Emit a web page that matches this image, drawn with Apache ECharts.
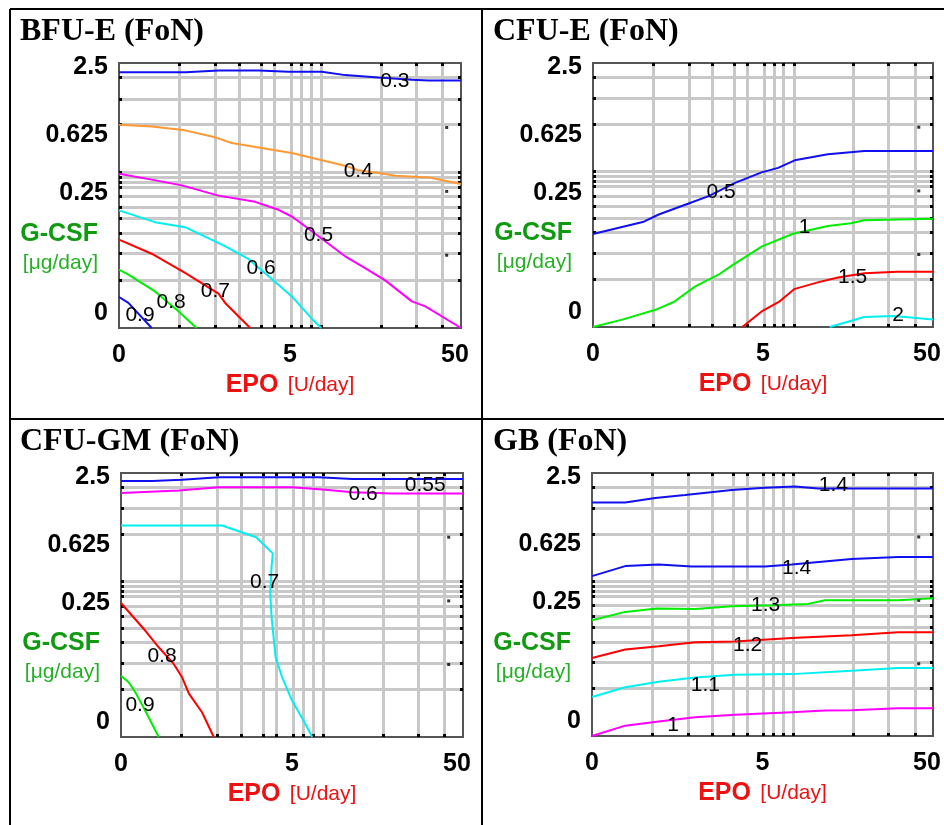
<!DOCTYPE html>
<html>
<head>
<meta charset="utf-8">
<script src="https://cdn.jsdelivr.net/npm/echarts@6/dist/echarts.min.js"></script>
<style>
  html, body { margin: 0; padding: 0; background: #fff; }
  #chart { width: 944px; height: 825px; }
</style>
</head>
<body>
<div id="chart"></div>
<script>
// ---- Axis labels (EPO in U/day, G-CSF in µg/day) ----
const epoTickLabels = [0, 5, 50];
const gcsfTickLabels = [0, 0.25, 0.625, 2.5];

// ---- Dose design sample grid (drawn as grid lines / ticks) ----
const epoGrid = [0.734, 1.54, 2.30, 3.24, 3.98, 5.08, 5.84, 6.73, 7.75, 17.5, 27.9, 39.4];
const gcsfGrid = [0.0277, 0.0576, 0.093, 0.127, 0.162, 0.201, 0.242, 0.267, 0.294, 0.325, 0.802, 1.29, 1.93];
const gridMarks = [[41.5, 0.757], [41.5, 0.222], [41.5, 0.0555]];

const panelTitles = ['BFU-E (FoN)', 'CFU-E (FoN)', 'CFU-GM (FoN)', 'GB (FoN)'];

// ---- BFU-E fold-of-normal contours: [EPO, G-CSF] ----
const bfuLevels = [0.3, 0.4, 0.5, 0.6, 0.7, 0.8, 0.9];
const bfuLines = [
  [[0,2.11],[0.85,2.11],[1.62,2.18],[3.13,2.18],[4.9,2.13],[7.85,2.13],[10.8,2.0],[16.9,1.91],[26.3,1.84],[32.8,1.815],[50,1.815]],
  [[0,0.797],[0.326,0.772],[0.836,0.717],[1.525,0.629],[2.04,0.565],[3.13,0.52],[5.13,0.468],[7.85,0.407],[10.8,0.367],[12.9,0.336],[16.9,0.318],[21.2,0.302],[32.9,0.292],[50,0.257]],
  [[0,0.314],[0.326,0.28],[0.776,0.25],[1.62,0.204],[2.97,0.18],[4.23,0.153],[5.13,0.133],[6.21,0.108],[8.21,0.0773],[10.8,0.054],[13.6,0.0416],[18.5,0.0277],[26.3,0.0125],[31.4,0.0097],[50,0]],
  [[0,0.151],[0.368,0.118],[0.836,0.106],[1.72,0.0715],[1.93,0.066],[2.67,0.0505],[3.83,0.029],[5.13,0.0156],[6.82,0.0037],[7.78,0]],
  [[0,0.0803],[0.326,0.0576],[0.836,0.0346],[1.62,0.0174],[1.82,0.0116],[2.75,0]],
  [[0,0.038],[0.08,0.033],[0.368,0.019],[0.716,0.0071],[1.07,0]],
  [[0,0.0152],[0.08,0.0116],[0.326,0]]
];
const bfuLabelAt = [[21.0,1.78],[12.9,0.327],[7.49,0.089],[3.26,0.0394],[1.53,0.0193],[0.595,0.012],[0.194,0.0053]];

// ---- CFU-E ----
const cfuELevels = [0.5, 1, 1.5, 2];
const cfuELines = [
  [[0,0.0898],[0.58,0.1176],[0.836,0.137],[1.525,0.172],[2.16,0.2],[3.29,0.26],[4.9,0.32],[6.21,0.349],[7.85,0.404],[12.4,0.453],[20.2,0.483],[50,0.483]],
  [[0,0],[0.287,0.0029],[0.776,0.0074],[1.15,0.0116],[1.72,0.0221],[2.6,0.033],[3.13,0.0416],[4.9,0.0672],[7.67,0.0904],[12.4,0.1072],[16.9,0.114],[20.2,0.1216],[50,0.125]],
  [[3.68,0],[4.9,0.0066],[6.36,0.012],[7.78,0.02],[10.8,0.0253],[14.2,0.0295],[20.2,0.0336],[31.4,0.035],[50,0.035]],
  [[12.7,0],[20.2,0.004],[30,0.0045],[50,0.0029]]
];
const cfuELabelAt = [[2.65,0.218],[9.0,0.104],[17.3,0.0298],[31.6,0.0047]];

// ---- CFU-GM ----
const cfuGMLevels = [0.55, 0.6, 0.7, 0.8, 0.9];
const cfuGMLines = [
  [[0,2.158],[0.307,2.158],[0.746,2.21],[1.57,2.307],[7.31,2.307],[11.6,2.237],[25.8,2.237],[50,2.237]],
  [[0,1.73],[0.69,1.806],[1.57,1.92],[5.01,1.92],[8.03,1.838],[11.6,1.75],[19.8,1.71],[50,1.71]],
  [[0,0.942],[1.667,0.942],[2.92,0.756],[3.77,0.558],[3.70,0.432],[3.63,0.257],[3.70,0.16],[3.93,0.0662],[4.33,0.0397],[5.01,0.0188],[5.92,0.0068],[6.67,0]],
  [[0,0.213],[0.23,0.12],[0.39,0.0835],[0.605,0.0563],[0.746,0.0397],[0.868,0.0245],[1.148,0.0113],[1.433,0]],
  [[0,0.0415],[0.065,0.0345],[0.127,0.0253],[0.23,0.0122],[0.39,0]]
];
const cfuGMLabelAt = [[30.5,1.98],[13.4,1.68],[3.33,0.323],[0.434,0.0672],[0.173,0.016]];

// ---- GB ----
const gbLevels = [1.4, 1.4, 1.3, 1.2, 1.1, 1];
const gbLines = [
  [[0,1.446],[0.334,1.446],[0.787,1.57],[1.45,1.66],[3.16,1.82],[5.18,1.90],[7.92,1.95],[10.9,1.878],[50,1.878]],
  [[0,0.358],[0.334,0.435],[0.85,0.449],[1.64,0.432],[5.18,0.432],[7.56,0.449],[17.1,0.498],[31.7,0.518],[50,0.518]],
  [[0,0.148],[0.334,0.176],[0.816,0.1885],[1.736,0.187],[3.16,0.1975],[5.75,0.2016],[9.52,0.207],[11.94,0.223],[31.7,0.223],[50,0.232]],
  [[0,0.0638],[0.334,0.078],[0.85,0.0841],[1.736,0.092],[3.32,0.0939],[7.56,0.101],[17.1,0.1076],[31.7,0.1149],[50,0.1149]],
  [[0,0.021],[0.334,0.029],[0.85,0.0343],[1.736,0.0387],[3.32,0.0416],[7.56,0.0424],[17.1,0.0464],[31.7,0.0497],[50,0.0497]],
  [[0,0],[0.334,0.0042],[0.85,0.0061],[1.736,0.0082],[3.32,0.0095],[7.56,0.011],[11.94,0.0119],[17.1,0.0121],[31.7,0.0133],[50,0.0133]]
];
const gbLabelAt = [[13.4,2.0],[8.1,0.418],[5.23,0.2],[4.02,0.0854],[2.07,0.0305],[1.15,0.0042]];

// ---- Styling ----
const C = { blue: '#1010f0', orange: '#ff9933', magenta: '#ff00ff', cyan: '#00f0f0', red: '#ff0000', green: '#00ee00' };
const SANS = 'Liberation Sans, Arial, sans-serif';
const SERIF = 'Liberation Serif, Times New Roman, serif';

// Both axes are logarithmic with an offset so that the zero dose can be shown
const X_OFF = 0.625, Y_OFF = 0.02;
const toX = v => v + X_OFF;
const toY = v => v + Y_OFF;

const panels = [
  { title: panelTitles[0], levels: bfuLevels, lines: bfuLines, labelAt: bfuLabelAt,
    colors: [C.blue, C.orange, C.magenta, C.cyan, C.red, C.green, C.blue],
    grid: { left: 119, top: 63, width: 342, height: 265 }, titlePos: { left: 15, top: 11 } },
  { title: panelTitles[1], levels: cfuELevels, lines: cfuELines, labelAt: cfuELabelAt,
    colors: [C.blue, C.green, C.red, C.cyan],
    grid: { left: 593, top: 63, width: 340, height: 264 }, titlePos: { left: 488, top: 11 } },
  { title: panelTitles[2], levels: cfuGMLevels, lines: cfuGMLines, labelAt: cfuGMLabelAt,
    colors: [C.blue, C.magenta, C.cyan, C.red, C.green],
    grid: { left: 121, top: 473, width: 342, height: 264 }, titlePos: { left: 15, top: 421 } },
  { title: panelTitles[3], levels: gbLevels, lines: gbLines, labelAt: gbLabelAt,
    colors: [C.blue, C.blue, C.green, C.red, C.cyan, C.magenta],
    grid: { left: 592, top: 473, width: 341, height: 263 }, titlePos: { left: 488, top: 421 } }
];

const tickFont = { fontFamily: SANS, fontSize: 25, fontWeight: 'bold', color: '#000' };

function fmt(v) { return String(+v.toFixed(4)); }

const option = {
  animation: false,
  backgroundColor: '#fff',
  title: [], grid: [], xAxis: [], yAxis: [], series: [],
  graphic: [
    { type: 'line', shape: { x1: 10, y1: 9, x2: 944, y2: 9 }, style: { stroke: '#000', lineWidth: 2 } },
    { type: 'line', shape: { x1: 10, y1: 9, x2: 10, y2: 825 }, style: { stroke: '#000', lineWidth: 2 } },
    { type: 'line', shape: { x1: 482, y1: 9, x2: 482, y2: 825 }, style: { stroke: '#000', lineWidth: 2 } },
    { type: 'line', shape: { x1: 10, y1: 419, x2: 944, y2: 419 }, style: { stroke: '#000', lineWidth: 2 } }
  ]
};

panels.forEach((p, i) => {
  option.title.push({
    text: p.title, left: p.titlePos.left, top: p.titlePos.top,
    textStyle: { fontFamily: SERIF, fontSize: 32, fontWeight: 'bold', color: '#000' }
  });
  option.grid.push(Object.assign({
    show: true, borderColor: '#555', borderWidth: 2, backgroundColor: 'transparent',
    containLabel: false, outerBoundsMode: 'none'
  }, p.grid));

  const xTicks = { show: true, inside: true, length: 3, customValues: epoGrid.map(toX), lineStyle: { color: '#000', width: 3 } };
  const yTicks = { show: true, inside: true, length: 3, customValues: gcsfGrid.map(toY), lineStyle: { color: '#000', width: 3 } };
  const xBase = { type: 'log', logBase: 10, gridIndex: i, min: toX(0), max: toX(50), axisLine: { show: false }, minorTick: { show: false }, minorSplitLine: { show: false }, nameMoveOverlap: false };
  const yBase = { type: 'log', logBase: 10, gridIndex: i, min: toY(0), max: toY(2.5), axisLine: { show: false }, minorTick: { show: false }, minorSplitLine: { show: false }, nameMoveOverlap: false };

  // bottom EPO axis with grid lines and labels
  option.xAxis.push(Object.assign({}, xBase, {
    position: 'bottom',
    axisTick: xTicks,
    splitLine: { show: true, lineStyle: { color: '#c8c8c8', width: 3 } },
    axisLabel: Object.assign({}, tickFont, {
      customValues: epoTickLabels.map(toX), margin: 15,
      formatter: v => { const k = epoTickLabels.indexOf(+(v - X_OFF).toFixed(4)); return '{x' + k + '|' + fmt(v - X_OFF) + '}'; },
      rich: {
        x0: Object.assign({}, tickFont),
        x1: Object.assign({}, tickFont),
        x2: Object.assign({ padding: [0, 12, 0, 0] }, tickFont)
      }
    }),
    name: '{a|EPO} {b|[U/day]}', nameLocation: 'middle', nameGap: 42,
    nameTextStyle: { rich: {
      a: { fontFamily: SANS, fontSize: 25, fontWeight: 'bold', color: '#ee1111', lineHeight: 30 },
      b: { fontFamily: SANS, fontSize: 21, color: '#ee1111', lineHeight: 30, padding: [0, 0, 0, 6] }
    } }
  }));
  // top frame ticks
  option.xAxis.push(Object.assign({}, xBase, {
    position: 'top', axisTick: xTicks, axisLabel: { show: false }, splitLine: { show: false }
  }));

  // left G-CSF axis with grid lines and labels
  option.yAxis.push(Object.assign({}, yBase, {
    position: 'left',
    axisTick: yTicks,
    splitLine: { show: true, lineStyle: { color: '#c8c8c8', width: 3 } },
    axisLabel: Object.assign({}, tickFont, {
      customValues: gcsfTickLabels.map(toY), margin: 11,
      formatter: v => { const k = gcsfTickLabels.indexOf(+(v - Y_OFF).toFixed(4)); return '{y' + k + '|' + fmt(v - Y_OFF) + '}'; },
      rich: {
        y0: Object.assign({ padding: [0, 0, 29, 0] }, tickFont),
        y1: Object.assign({ padding: [16, 0, 0, 0] }, tickFont),
        y2: Object.assign({ padding: [0, 0, 5, 0] }, tickFont),
        y3: Object.assign({ padding: [9, 0, 0, 0] }, tickFont)
      }
    }),
    name: '{a|G-CSF}\n{b|[μg/day]}', nameLocation: 'middle', nameRotate: 0, nameGap: 21,
    nameTextStyle: { align: 'right', padding: [106, 0, 0, 0], rich: {
      a: { fontFamily: SANS, fontSize: 25, fontWeight: 'bold', color: '#109a10', lineHeight: 29, align: 'right' },
      b: { fontFamily: SANS, fontSize: 21, color: '#26b026', lineHeight: 29, align: 'right' }
    } }
  }));
  // right frame ticks
  option.yAxis.push(Object.assign({}, yBase, {
    position: 'right', axisTick: yTicks, axisLabel: { show: false }, splitLine: { show: false }
  }));

  const xi = i * 2, yi = i * 2;

  p.lines.forEach((pts, j) => {
    option.series.push({
      type: 'line', xAxisIndex: xi, yAxisIndex: yi, name: String(p.levels[j]),
      data: pts.map(d => [toX(d[0]), toY(d[1])]),
      showSymbol: false, symbol: 'none', smooth: false, clip: true, z: 3,
      lineStyle: { color: p.colors[j], width: 2 }
    });
  });

  // contour level labels
  option.series.push({
    type: 'scatter', xAxisIndex: xi, yAxisIndex: yi, z: 5,
    data: p.labelAt.map((d, j) => [toX(d[0]), toY(d[1]), p.levels[j]]),
    symbol: 'circle', symbolSize: 1, itemStyle: { color: 'rgba(0,0,0,0)' },
    label: { show: true, position: 'inside', formatter: q => fmt(q.value[2]),
      fontFamily: SANS, fontSize: 21, color: '#000000', textBorderWidth: 0, opacity: 1 }
  });

  // small marks on the grid
  option.series.push({
    type: 'scatter', xAxisIndex: xi, yAxisIndex: yi, z: 4,
    data: gridMarks.map(d => [toX(d[0]), toY(d[1])]),
    symbol: 'rect', symbolSize: 3, itemStyle: { color: '#000' }
  });
});

const chart = echarts.init(document.getElementById('chart'), null, { renderer: 'canvas' });
chart.setOption(option);
</script>
</body>
</html>
